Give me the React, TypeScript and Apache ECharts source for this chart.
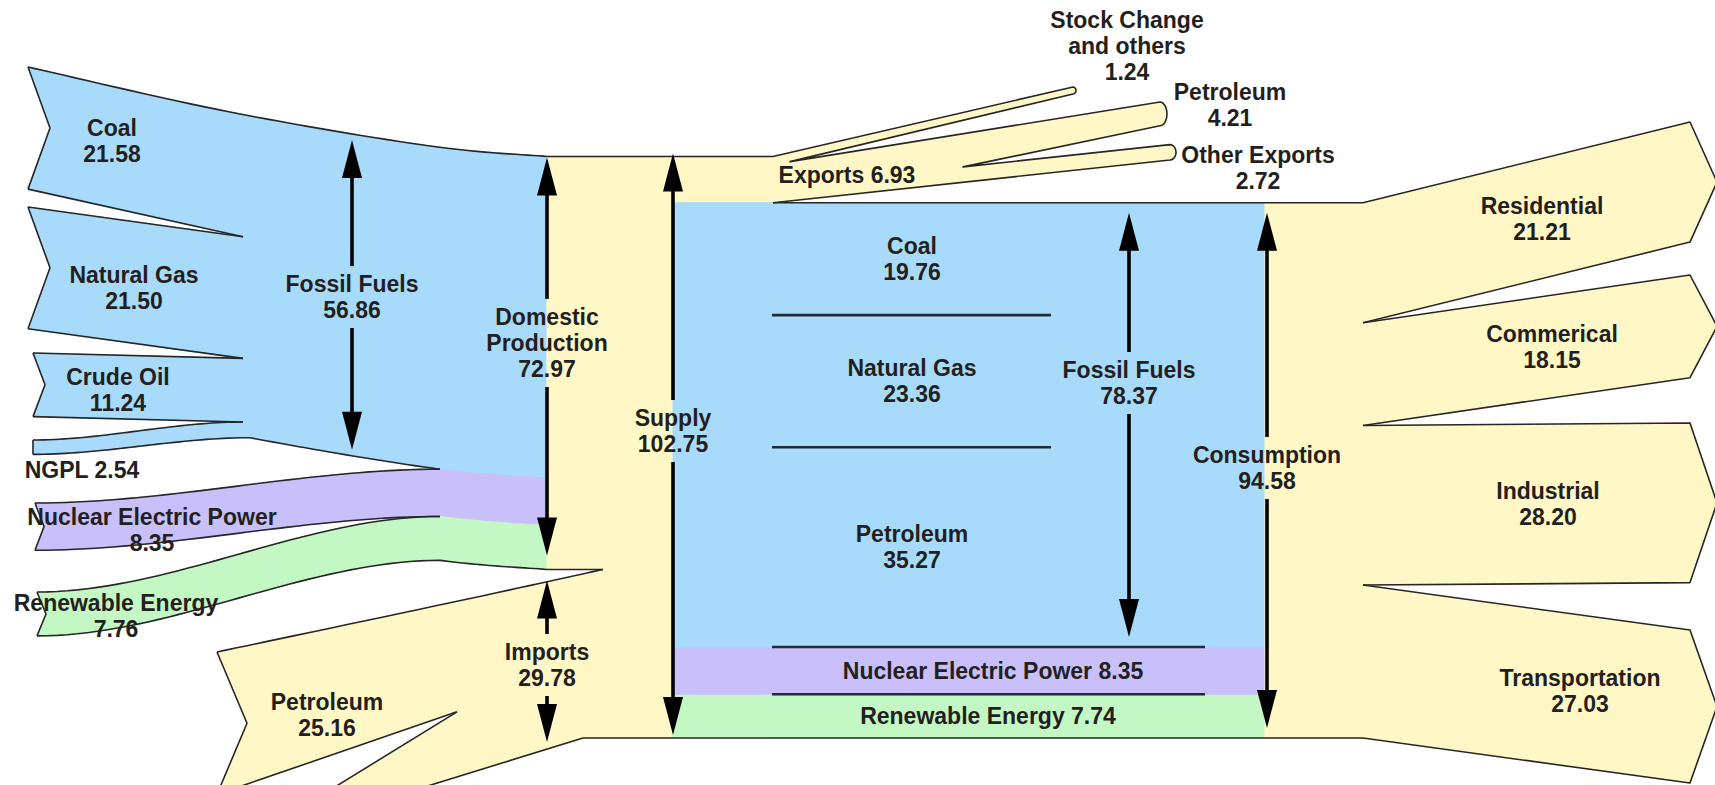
import React, { useEffect, useRef } from "react";
import * as echarts from "echarts";

// ---------------- data (quadrillion Btu) ----------------
const productionNames = ["Coal", "Natural Gas", "Crude Oil", "NGPL"];
const productionValues = [21.58, 21.5, 11.24, 2.54];
const fossilProduction = 56.86;
const nuclearProduction = 8.35;
const renewableProduction = 7.76;
const domesticProduction = 72.97;
const importPetroleum = 25.16;
const importsTotal = 29.78;
const supplyTotal = 102.75;
const exportNames = ["Other Exports", "Petroleum"];
const exportValues = [2.72, 4.21];
const exportsTotal = 6.93;
const stockChange = 1.24;
const consumptionTotal = 94.58;
const fuelNames = ["Petroleum", "Natural Gas", "Coal"];
const fuelValues = [35.27, 23.36, 19.76];
const fossilConsumption = 78.37;
const nuclearConsumption = 8.35;
const renewableConsumption = 7.74;
const sectorNames = ["Residential", "Commerical", "Industrial", "Transportation"];
const sectorValues = [21.21, 18.15, 28.2, 27.03];

// ---------------- layout ----------------
const W = 1715;
const H = 785;
const K = 5.66; // pixels per unit of energy
const BASE = 738; // pixel row of the zero level
const L = (py: number) => (BASE - py) / K; // layout row -> level
const XT = 547; // trunk start
const XBOX = 673;
const XEXP = 773;
const XBOXR = 1265;
const XSPLITR = 1363;
const XTIPF = 243; // where the fossil fuel bands merge

const BLUE = "#a8dbfb";
const PURPLE = "#c9bffa";
const GREEN = "#c3f7c3";
const YELLOW = "#fff8c6";
const INK = "#231f20";
const OUT = "#262626";
const FONT = "'Liberation Sans', Arial, sans-serif";
const FS = 23;
const LH = 26;

type P = [number, number];
const lerp = (a: number, b: number, t: number) => a + (b - a) * t;
const fmt = (v: number) => v.toFixed(2);

function sCurve(a: P, b: P, n = 40): P[] {
  const out: P[] = [];
  for (let i = 0; i <= n; i++) {
    const t = i / n;
    const s = t * t * (3 - 2 * t);
    out.push([lerp(a[0], b[0], t), lerp(a[1], b[1], s)]);
  }
  return out;
}
function catmull(pts: P[], seg = 16): P[] {
  const out: P[] = [];
  for (let i = 0; i < pts.length - 1; i++) {
    const p0 = pts[Math.max(0, i - 1)];
    const p1 = pts[i];
    const p2 = pts[i + 1];
    const p3 = pts[Math.min(pts.length - 1, i + 2)];
    for (let j = 0; j < seg; j++) {
      const t = j / seg;
      const t2 = t * t;
      const t3 = t2 * t;
      const f = (a: number, b: number, c: number, d: number) =>
        0.5 * (2 * b + (-a + c) * t + (2 * a - 5 * b + 4 * c - d) * t2 + (-a + 3 * b - 3 * c + d) * t3);
      out.push([f(p0[0], p1[0], p2[0], p3[0]), f(p0[1], p1[1], p2[1], p3[1])]);
    }
  }
  out.push(pts[pts.length - 1]);
  return out;
}
function evalAt(poly: P[], x: number): number {
  for (let i = 0; i < poly.length - 1; i++) {
    const [x0, y0] = poly[i];
    const [x1, y1] = poly[i + 1];
    if ((x >= x0 && x <= x1) || (x <= x0 && x >= x1)) {
      const t = x1 === x0 ? 0 : (x - x0) / (x1 - x0);
      return lerp(y0, y1, t);
    }
  }
  return poly[poly.length - 1][1];
}
function clipRight(poly: P[], xMax: number): P[] {
  const out: P[] = [];
  for (const p of poly) {
    if (p[0] <= xMax) out.push(p);
    else {
      out.push([xMax, evalAt(poly, xMax)]);
      break;
    }
  }
  return out;
}
function clipLeft(poly: P[], xMin: number): P[] {
  const out: P[] = [[xMin, evalAt(poly, xMin)]];
  for (const p of poly) if (p[0] > xMin) out.push(p);
  return out;
}
function cap(b: P, t: P, bulge: number, n = 10): P[] {
  const mid = (b[1] + t[1]) / 2;
  const half = (t[1] - b[1]) / 2;
  const out: P[] = [];
  for (let i = 0; i <= n; i++) {
    const th = -Math.PI / 2 + (Math.PI * i) / n;
    out.push([lerp(b[0], t[0], i / n) + bulge * Math.cos(th), mid + half * Math.sin(th)]);
  }
  return out;
}
const rev = (a: P[]) => a.slice().reverse();

function buildScene() {
  const fills: { pts: P[]; color: string }[] = [];
  const strokes: P[][] = [];
  const dividers: { a: P; b: P }[] = [];
  const texts: { x: number; u: number; text: string }[] = [];

  const lvImp = importsTotal;
  const lvOther = importsTotal - importPetroleum;

  // cumulative depth below the top of the domestic bundle
  const cum: number[] = [0];
  productionValues.forEach((v) => cum.push(cum[cum.length - 1] + v));
  const cFos = cum[cum.length - 1];
  const cNuc = cFos + nuclearProduction;
  const cRen = cNuc + renewableProduction;

  // top edge of the domestic bundle, meeting the trunk at the supply level
  const coalTop = catmull([[28, L(67)], [230, L(112)], [430, L(146)], [XT, supplyTotal]]);
  const D = (x: number) => (x >= XT ? supplyTotal : evalAt(coalTop, x));
  const follow = (x0: number, x1: number, c: number, n = 24): P[] => {
    const out: P[] = [];
    for (let i = 0; i <= n; i++) {
      const x = lerp(x0, x1, i / n);
      out.push([x, D(x) - c]);
    }
    return out;
  };

  const X1 = XTIPF;
  const coalBot: P[] = [[28, L(67) - productionValues[0]], [X1, D(X1) - cum[1]]];
  const ngTop: P[] = [[28, L(207)], [X1, D(X1) - cum[1]]];
  const ngBot: P[] = [[28, L(207) - productionValues[1]], [X1, D(X1) - cum[2]]];
  const crTop: P[] = [[33, L(353)], [X1, D(X1) - cum[2]]];
  const crBot: P[] = [[33, L(353) - productionValues[2]], [X1, D(X1) - cum[3]]];
  const nglTop = sCurve([33, L(440)], [X1, D(X1) - cum[3]]);
  const nglBot: P[] = [...sCurve([33, L(440) - productionValues[3]], [250, D(250) - cFos]), ...follow(250, 440, cFos)];
  const nucTop = sCurve([35, L(503)], [440, D(440) - cFos]);
  const nucBot = sCurve([35, L(503) - nuclearProduction], [440, D(440) - cNuc]);
  const renTop = sCurve([37, L(592)], [440, D(440) - cNuc]);
  const renBot: P[] = [
    ...sCurve([37, L(592) - renewableProduction], [440, D(440) - cRen]),
    ...follow(440, XT, cRen),
    [603, lvImp],
  ];
  const petTop = catmull([[217, L(652)], [463, L(600)], [603, lvImp]]);
  const petBot: P[] = [[217, L(652) - importPetroleum], [457, lvOther]];
  const othTop: P[] = [[330, L(790)], [457, lvOther]];
  const othBot: P[] = [[330, L(790) - lvOther], [583, 0]];

  const notch = (t: P[], b: P[], d: number): P => [t[0][0] + d, (t[0][1] + b[0][1]) / 2];
  const nCoal = notch(coalTop, coalBot, 22);
  const nNg = notch(ngTop, ngBot, 22);
  const nCr = notch(crTop, crBot, 12);
  const nNuc = notch(nucTop, nucBot, 9);
  const nRen = notch(renTop, renBot, 9);
  const nPet = notch(petTop, petBot, 30);

  fills.push({ pts: [...coalTop, ...rev(follow(X1, XT, cum[1])), ...rev(coalBot), nCoal], color: BLUE });
  fills.push({ pts: [...ngTop, ...follow(X1, XT, cum[1]), ...rev(follow(X1, XT, cum[2])), ...rev(ngBot), nNg], color: BLUE });
  fills.push({ pts: [...crTop, ...follow(X1, XT, cum[2]), ...rev(follow(X1, XT, cum[3])), ...rev(crBot), nCr], color: BLUE });
  fills.push({ pts: [...nglTop, ...follow(X1, XT, cum[3]), ...rev(follow(440, XT, cFos)), ...rev(nglBot)], color: BLUE });
  fills.push({ pts: [...nucTop, ...follow(440, XT, cFos), ...rev(follow(440, XT, cNuc)), ...rev(nucBot), nNuc], color: PURPLE });
  fills.push({ pts: [...renTop, ...follow(440, XT, cNuc), ...rev(clipRight(renBot, XT)), nRen], color: GREEN });
  fills.push({ pts: [...petTop, [603, lvOther], ...rev(petBot), nPet], color: YELLOW });
  fills.push({ pts: [...othTop, [600, lvOther], [600, 0], ...rev(othBot)], color: YELLOW });

  // trunk
  fills.push({ pts: [[XT, 0], [XT, supplyTotal], [XEXP, supplyTotal], [XEXP, 0]], color: YELLOW });

  // central box
  const lvBoxNuc = renewableConsumption;
  const lvBoxFos = renewableConsumption + nuclearConsumption;
  fills.push({ pts: [[XBOX, 0], [XBOX, lvBoxNuc], [XBOXR, lvBoxNuc], [XBOXR, 0]], color: GREEN });
  fills.push({ pts: [[XBOX, lvBoxNuc], [XBOX, lvBoxFos], [XBOXR, lvBoxFos], [XBOXR, lvBoxNuc]], color: PURPLE });
  fills.push({ pts: [[XBOX, lvBoxFos], [XBOX, consumptionTotal], [XBOXR, consumptionTotal], [XBOXR, lvBoxFos]], color: BLUE });
  fills.push({ pts: [[XBOXR, 0], [XBOXR, consumptionTotal], [XSPLITR + 2, consumptionTotal], [XSPLITR + 2, 0]], color: YELLOW });

  let f = lvBoxFos;
  fuelValues.forEach((v, i) => {
    const top = f + v;
    texts.push({ x: 912, u: (f + top) / 2, text: `${fuelNames[i]}\n${fmt(v)}` });
    if (i < fuelValues.length - 1) dividers.push({ a: [772, top], b: [1051, top] });
    f = top;
  });
  dividers.push({ a: [772, lvBoxFos], b: [1205, lvBoxFos] });
  dividers.push({ a: [772, lvBoxNuc], b: [1205, lvBoxNuc] });
  texts.push({ x: 993, u: (lvBoxNuc + lvBoxFos) / 2, text: `Nuclear Electric Power ${fmt(nuclearConsumption)}` });
  texts.push({ x: 988, u: lvBoxNuc / 2, text: `Renewable Energy ${fmt(renewableConsumption)}` });

  // sectors
  const sectorTops = [122, 275, 423, 630];
  const sectorLabelX = [1542, 1552, 1548, 1580];
  const XR = 1690;
  const XTIP = 1717;
  let top = consumptionTotal;
  sectorValues.forEach((v, i) => {
    const bot = top - v;
    const rt = L(sectorTops[i]);
    const rb = rt - v;
    const poly: P[] = [[XSPLITR, top], [XR, rt], [XTIP, (rt + rb) / 2], [XR, rb], [XSPLITR, bot]];
    fills.push({ pts: poly, color: YELLOW });
    strokes.push(i === 0 ? [[XEXP, consumptionTotal], ...poly] : poly);
    const t = (sectorLabelX[i] - XSPLITR) / (XR - XSPLITR);
    texts.push({ x: sectorLabelX[i], u: lerp((top + bot) / 2, (rt + rb) / 2, t), text: `${sectorNames[i]}\n${fmt(v)}` });
    top = bot;
  });

  // exports & stock change
  const otherEnd: P = [1170, L(160)];
  const bottomLine = (x: number) => lerp(consumptionTotal, otherEnd[1], (x - XEXP) / (otherEnd[0] - XEXP));
  const otherTopEnd: P = [1170, otherEnd[1] + exportValues[0]];
  const splitPt: P = [963, bottomLine(963) + exportValues[0]];
  const petEndTop: P = [1160, L(102)];
  const petEndBot: P = [1160, L(102) - exportValues[1]];
  const stockSplit: P = [790, bottomLine(790) + exportsTotal];
  const stockEndTop: P = [1073, L(87)];
  const stockEndBot: P = [1073, L(87) - stockChange];
  const expOutline: P[] = [
    [XEXP, consumptionTotal],
    ...cap(otherEnd, otherTopEnd, 6),
    splitPt,
    ...cap(petEndBot, petEndTop, 7),
    stockSplit,
    ...cap(stockEndBot, stockEndTop, 3, 6),
    [XEXP, supplyTotal],
  ];
  fills.push({ pts: expOutline, color: YELLOW });
  strokes.push(expOutline);

  // white wedge between renewable and petroleum reaching into the trunk
  fills.push({ pts: [...clipLeft(renBot, 530), ...rev(clipLeft(petTop, 530))], color: "#ffffff" });

  // outlines of the source bands
  strokes.push([...coalTop, [XEXP, supplyTotal]]);
  strokes.push([coalTop[0], nCoal, coalBot[0]], coalBot);
  strokes.push([ngTop[0], nNg, ngBot[0]], ngTop, ngBot);
  strokes.push([crTop[0], nCr, crBot[0]], crTop, crBot);
  strokes.push([nglTop[0], nglBot[0]], nglTop, nglBot);
  strokes.push([nucTop[0], nNuc, nucBot[0]], nucTop, nucBot);
  strokes.push([renTop[0], nRen, renBot[0]], renTop, renBot);
  strokes.push([petTop[0], nPet, petBot[0]], petTop, petBot);
  strokes.push(othTop, [...othBot, [XSPLITR, 0]]);

  const lt = (x: number, py: number, text: string) => texts.push({ x, u: L(py), text });
  lt(112, 141, `${productionNames[0]}\n${fmt(productionValues[0])}`);
  lt(134, 288, `${productionNames[1]}\n${fmt(productionValues[1])}`);
  lt(118, 390, `${productionNames[2]}\n${fmt(productionValues[2])}`);
  lt(82, 470, `${productionNames[3]} ${fmt(productionValues[3])}`);
  lt(152, 530, `Nuclear Electric Power\n${fmt(nuclearProduction)}`);
  lt(116, 616, `Renewable Energy\n${fmt(renewableProduction)}`);
  lt(327, 715, `Petroleum\n${fmt(importPetroleum)}`);
  lt(847, 175, `Exports ${fmt(exportsTotal)}`);
  lt(1127, 46, `Stock Change\nand others\n${fmt(stockChange)}`);
  lt(1230, 105, `${exportNames[1]}\n${fmt(exportValues[1])}`);
  lt(1258, 168, `${exportNames[0]}\n${fmt(exportValues[0])}`);

  const arrows = [
    { x: 352, uTop: D(352), uBot: D(352) - fossilProduction, inT: 6, inB: 6, cy: 297, text: `Fossil Fuels\n${fmt(fossilProduction)}` },
    { x: XT, uTop: supplyTotal, uBot: lvImp, inT: 1, inB: 14, cy: 343, text: `Domestic\nProduction\n${fmt(domesticProduction)}` },
    { x: XT, uTop: lvImp, uBot: 0, inT: 11, inB: -4, cy: 665, text: `Imports\n${fmt(importsTotal)}` },
    { x: XBOX, uTop: supplyTotal, uBot: 0, inT: -3, inB: 3, cy: 431, text: `Supply\n${fmt(supplyTotal)}` },
    { x: 1129, uTop: consumptionTotal, uBot: lvBoxFos, inT: 10, inB: 10, cy: 383, text: `Fossil Fuels\n${fmt(fossilConsumption)}` },
    { x: 1267, uTop: consumptionTotal, uBot: 0, inT: 10, inB: 10, cy: 468, text: `Consumption\n${fmt(consumptionTotal)}` },
  ];

  return { fills, strokes, dividers, texts, arrows };
}

export default function App() {
  const ref = useRef<HTMLDivElement>(null);
  useEffect(() => {
    if (!ref.current) return;
    const chart = echarts.init(ref.current, undefined, { renderer: "svg" });
    const scene = buildScene();
    const renderItem = (_params: any, api: any) => {
      const c = (p: P) => api.coord(p);
      const children: any[] = [];
      scene.fills.forEach((f) =>
        children.push({
          type: "polygon",
          silent: true,
          shape: { points: f.pts.map(c) },
          style: { fill: f.color, stroke: f.color, lineWidth: 1 },
        })
      );
      scene.strokes.forEach((s) =>
        children.push({
          type: "polyline",
          silent: true,
          shape: { points: s.map(c) },
          style: { fill: "none", stroke: OUT, lineWidth: 1.6, lineJoin: "round" },
        })
      );
      scene.dividers.forEach((d) => {
        const a = c(d.a);
        const b = c(d.b);
        children.push({
          type: "line",
          silent: true,
          shape: { x1: a[0], y1: a[1], x2: b[0], y2: b[1] },
          style: { stroke: "#1f2d36", lineWidth: 2.6 },
        });
      });
      const textEl = (x: number, y: number, text: string) => ({
        type: "text",
        silent: true,
        x,
        y,
        style: {
          text,
          fill: INK,
          fontSize: FS,
          fontWeight: "bold",
          fontFamily: FONT,
          align: "center",
          verticalAlign: "middle",
          lineHeight: LH,
        },
      });
      const HEAD = 38;
      const HW = 10;
      scene.arrows.forEach((a) => {
        const px = c([a.x, a.uTop])[0];
        const yT = c([a.x, a.uTop])[1] + a.inT;
        const yB = c([a.x, a.uBot])[1] - a.inB;
        const cy = c([a.x, L(a.cy)])[1];
        const n = a.text.split("\n").length;
        const lTop = cy - (n * LH) / 2 - 5;
        const lBot = cy + (n * LH) / 2 + 5;
        const line = (y1: number, y2: number) => ({
          type: "line",
          silent: true,
          shape: { x1: px, y1, x2: px, y2 },
          style: { stroke: "#000", lineWidth: 3.6 },
        });
        children.push(line(yT + HEAD - 4, lTop));
        children.push(line(lBot, yB - HEAD + 4));
        children.push({
          type: "polygon",
          silent: true,
          shape: { points: [[px, yT], [px - HW, yT + HEAD], [px + HW, yT + HEAD]] },
          style: { fill: "#000" },
        });
        children.push({
          type: "polygon",
          silent: true,
          shape: { points: [[px, yB], [px - HW, yB - HEAD], [px + HW, yB - HEAD]] },
          style: { fill: "#000" },
        });
        children.push(textEl(px, cy, a.text));
      });
      scene.texts.forEach((t) => {
        const p = c([t.x, t.u]);
        children.push(textEl(p[0], p[1], t.text));
      });
      return { type: "group", children };
    };
    chart.setOption({
      animation: false,
      grid: { left: 0, right: 0, top: 0, bottom: 0 },
      xAxis: { type: "value", min: 0, max: W, show: false },
      yAxis: { type: "value", min: L(H), max: L(0), show: false },
      series: [
        {
          type: "custom",
          coordinateSystem: "cartesian2d",
          clip: false,
          silent: true,
          data: [[0, 0]],
          renderItem,
        },
      ],
    });
    return () => chart.dispose();
  }, []);
  return (
    <div
      ref={ref}
      style={{ position: "fixed", left: 0, top: 0, width: W, height: H, background: "#ffffff" }}
    />
  );
}
